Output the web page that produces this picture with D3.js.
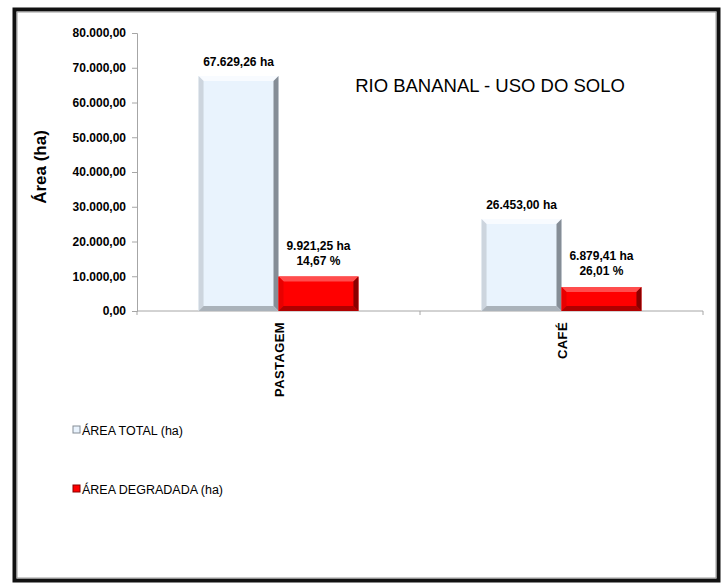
<!DOCTYPE html>
<html>
<head>
<meta charset="utf-8">
<script src="https://cdn.jsdelivr.net/npm/d3@7"></script>
<style>
  body { margin: 0; background: #fff; }
  text { font-family: "Liberation Sans", Arial, sans-serif; fill: #000; }
</style>
</head>
<body>
<script>
// Rio Bananal - land use
const width = 726;
const height = 585;

const categories = ["PASTAGEM", "CAFÉ"];
const seriesNames = ["ÁREA TOTAL (ha)", "ÁREA DEGRADADA (ha)"];
const areaTotal = [67629.26, 26453.00];
const areaDegradada = [9921.25, 6879.41];
const percentDegradada = ["14,67 %", "26,01 %"];
const yTicks = [0, 10000, 20000, 30000, 40000, 50000, 60000, 70000, 80000];

const svg = d3.select("body").append("svg")
    .attr("width", width)
    .attr("height", height);

// outer frame
svg.append("rect")
    .attr("x", 14.5).attr("y", 9.5)
    .attr("width", 704).attr("height", 571)
    .attr("fill", "#fff")
    .attr("stroke", "#111")
    .attr("stroke-width", 4);
svg.append("rect")
    .attr("x", 17).attr("y", 12)
    .attr("width", 699).attr("height", 566)
    .attr("fill", "none")
    .attr("stroke", "#9a9a9a")
    .attr("stroke-width", 1);

const plot = { left: 137, right: 703, top: 33, bottom: 311 };

const x = d3.scaleBand()
    .domain(categories)
    .range([plot.left, plot.right])
    .paddingInner(0)
    .paddingOuter(0);

const xSeries = d3.scaleBand()
    .domain([0, 1])
    .range([0, x.bandwidth()])
    .paddingOuter(0.77)
    .paddingInner(0);

const y = d3.scaleLinear()
    .domain([0, 80000])
    .range([plot.bottom, plot.top]);

const fmt = d3.formatLocale({ decimal: ",", thousands: ".", grouping: [3], currency: ["", ""] });
const fmt2 = fmt.format(",.2f");

// y axis
const yAxis = svg.append("g")
    .attr("transform", `translate(${plot.left},0)`)
    .call(d3.axisLeft(y).tickValues(yTicks).tickFormat(fmt2).tickSize(5).tickPadding(6));
yAxis.select(".domain").attr("stroke", "#a6a6a6");
yAxis.selectAll(".tick line").attr("stroke", "#a6a6a6");
yAxis.selectAll(".tick text")
    .attr("font-size", 12)
    .attr("font-weight", "bold")
    .attr("font-family", "Liberation Sans, Arial, sans-serif")
    .attr("fill", "#111");

// x axis line with ticks at band edges
svg.append("line")
    .attr("x1", plot.left).attr("x2", plot.right)
    .attr("y1", plot.bottom).attr("y2", plot.bottom)
    .attr("stroke", "#a6a6a6");
svg.selectAll(".xtick")
    .data(categories.map(c => x(c)).concat([plot.right]))
    .join("line")
    .attr("class", "xtick")
    .attr("x1", d => d).attr("x2", d => d)
    .attr("y1", plot.bottom).attr("y2", plot.bottom + 4)
    .attr("stroke", "#a6a6a6");

// category labels, rotated
svg.selectAll(".xlabel")
    .data(categories)
    .join("text")
    .attr("class", "xlabel")
    .attr("transform", d => `translate(${x(d) + x.bandwidth() / 2 + 5},${plot.bottom + 11}) rotate(-90)`)
    .attr("text-anchor", "end")
    .attr("font-size", 13)
    .attr("font-weight", "bold")
    .attr("letter-spacing", 0.4)
    .text(d => d);

// y axis title
svg.append("text")
    .attr("transform", `translate(46,${(plot.top + plot.bottom) / 2 - 5}) rotate(-90)`)
    .attr("text-anchor", "middle")
    .attr("font-size", 17)
    .attr("font-weight", "bold")
    .text("Área (ha)");

// chart title
svg.append("text")
    .attr("x", 490).attr("y", 92)
    .attr("text-anchor", "middle")
    .attr("font-size", 18.5)
    .text("RIO BANANAL - USO DO SOLO");

// bevel colours per series
const styles = [
    { face: "#e9f3fd", top: "#f8fbff", left: "#cdd5de", right: "#858d96", bottom: "#aab2ba" },
    { face: "#ff0000", top: "#ff4d4d", left: "#e80000", right: "#8a0000", bottom: "#b00000" }
];

const bars = [];
categories.forEach((c, i) => {
    bars.push({ cat: c, s: 0, value: areaTotal[i] });
    bars.push({ cat: c, s: 1, value: areaDegradada[i], pct: percentDegradada[i] });
});

const bev = 5;
const barG = svg.selectAll(".bar")
    .data(bars)
    .join("g")
    .attr("class", "bar");

barG.each(function (d) {
    const g = d3.select(this);
    const st = styles[d.s];
    const x0 = x(d.cat) + xSeries(d.s);
    const x1 = x0 + xSeries.bandwidth();
    const y0 = y(d.value);
    const y1 = y(0);
    const b = Math.min(bev, (y1 - y0) / 2);
    g.append("rect")
        .attr("x", x0).attr("y", y0)
        .attr("width", x1 - x0).attr("height", y1 - y0)
        .attr("fill", st.face);
    const poly = (pts, fill) => g.append("polygon")
        .attr("points", pts.map(p => p.join(",")).join(" "))
        .attr("fill", fill);
    poly([[x0, y0], [x1, y0], [x1 - b, y0 + b], [x0 + b, y0 + b]], st.top);
    poly([[x0, y0], [x0 + b, y0 + b], [x0 + b, y1 - b], [x0, y1]], st.left);
    poly([[x1, y0], [x1, y1], [x1 - b, y1 - b], [x1 - b, y0 + b]], st.right);
    poly([[x0, y1], [x0 + b, y1 - b], [x1 - b, y1 - b], [x1, y1]], st.bottom);
});

// data labels
barG.each(function (d) {
    const g = d3.select(this);
    const cx = x(d.cat) + xSeries(d.s) + xSeries.bandwidth() / 2;
    const top = y(d.value);
    const lines = d.pct ? [fmt2(d.value) + " ha", d.pct] : [fmt2(d.value) + " ha"];
    lines.forEach((t, k) => {
        g.append("text")
            .attr("x", cx)
            .attr("y", top - (d.pct ? 12 : 10) - (lines.length - 1 - k) * 15)
            .attr("text-anchor", "middle")
            .attr("font-size", 12)
            .attr("font-weight", "bold")
            .attr("fill", "#111")
            .text(t);
    });
});

// legend
const legendY = [430, 489];
const legend = svg.selectAll(".legend")
    .data(seriesNames)
    .join("g")
    .attr("class", "legend")
    .attr("transform", (d, i) => `translate(73,${legendY[i]})`);
legend.append("rect")
    .attr("x", 0).attr("y", -4)
    .attr("width", 7).attr("height", 7)
    .attr("fill", (d, i) => styles[i].face)
    .attr("stroke", (d, i) => styles[i].right)
    .attr("stroke-width", 1);
legend.append("text")
    .attr("x", 9).attr("y", 5)
    .attr("font-size", 12.5)
    .attr("fill", "#222")
    .text(d => d);
</script>
</body>
</html>
